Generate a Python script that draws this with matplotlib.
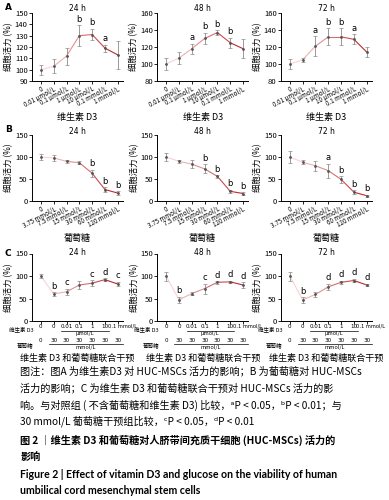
import numpy as np
import matplotlib.pyplot as plt
from matplotlib.colors import LinearSegmentedColormap
from matplotlib import transforms

plt.rcParams['font.family'] = ['Noto Sans CJK SC', 'DejaVu Sans']

times = ["24 h", "48 h", "72 h"]

# A: vitamin D3 alone
a_labels = ["0", "0.01 μmol/L", "0.1 μmol/L", "1 μmol/L", "10 μmol/L", "0.1 mmol/L", "1 mmol/L"]
a_mean = [[100, 103, 112, 130, 131, 119, 113],
          [100, 107, 118, 130, 137, 125, 118],
          [100, 105, 121, 132, 132, 129, 114]]
a_err = [[4.5, 6, 7.5, 9, 5, 3, 12],
         [7, 7, 6, 7, 3, 6, 11],
         [6, 2.5, 12, 10, 10, 6, 6]]
a_sig = [["", "", "", "b", "b", "a", ""],
         ["", "", "a", "b", "b", "b", ""],
         ["", "", "a", "b", "b", "a", ""]]
a_ylim = [(90, 150), (80, 160), (80, 160)]
a_ystep = [10, 20, 20]

# B: glucose alone
b_labels = ["0", "3.75 mmol/L", "7.5 mmol/L", "15 mmol/L", "30 mmol/L", "60 mmol/L", "120 mmol/L"]
b_mean = [[100, 98, 90, 87, 63, 26, 18],
          [100, 90, 84, 73, 56, 22, 17],
          [100, 88, 80, 69, 49, 20, 12]]
b_err = [[6, 6, 3, 4, 8, 5, 4],
         [9, 3, 9, 10, 3, 4, 3],
         [14, 5, 11, 16, 8, 4, 2]]
b_sig = [["", "", "", "", "b", "b", "b"],
         ["", "", "", "b", "b", "b", "b"],
         ["", "", "", "a", "b", "b", "b"]]

# C: combined
c_d3 = ["0", "0", "0.01", "0.1", "1", "10", "0.1 mmol/L"]
c_glu = ["0", "30", "30", "30", "30", "30", "30"]
c_mean = [[100, 60, 65, 80, 84, 92, 82],
          [100, 47, 61, 72, 86, 87, 80],
          [100, 47, 59, 76, 86, 90, 80]]
c_err = [[5, 4, 7, 9, 7, 3, 5],
         [10, 7, 3, 11, 3, 3, 6],
         [10, 6, 6, 7, 4, 4, 3]]
c_sig = [["", "b", "c", "", "c", "d", "c"],
         ["", "b", "", "c", "d", "d", "d"],
         ["", "b", "", "d", "d", "d", "d"]]

cmap = LinearSegmentedColormap.from_list("pk", ["#f7d4d4", "#c0282d"])

fig = plt.figure(figsize=(3.89, 5.0), dpi=100)
lefts = [0.082, 0.404, 0.722]
W = 0.234


def draw(ax, mean, err, sig, ylim, ystep, title, title_y):
    x = np.arange(len(mean))
    n = len(mean) - 1
    for i in range(n):
        ax.plot(x[i:i + 2], mean[i:i + 2], color=cmap(i / (n - 1)), lw=0.8, zorder=2)
    ax.errorbar(x, mean, yerr=err, fmt='none', ecolor='#8a8a8a', elinewidth=0.6,
                capsize=1.2, capthick=0.5, zorder=3)
    ax.plot(x, mean, 'o', ms=1.0, color='#555555', zorder=4)
    for xi, m, e, s in zip(x, mean, err, sig):
        if s:
            ax.annotate(s, (xi, m + e), xytext=(0, 1), textcoords='offset points',
                        ha='center', va='bottom', fontsize=6, family='DejaVu Sans')
    ax.set_xlim(-0.7, len(mean) - 0.6)
    ax.set_ylim(*ylim)
    ax.set_yticks(np.arange(ylim[0], ylim[1] + 1, ystep))
    ax.spines['top'].set_visible(False)
    ax.spines['right'].set_visible(False)
    for sp in ('left', 'bottom'):
        ax.spines[sp].set_linewidth(0.7)
    ax.tick_params(axis='both', length=2, width=0.6, pad=1, labelsize=5.5)
    ax.set_xticks(x)
    ax.text(0.5, title_y, title, transform=ax.transAxes, ha='center', va='center',
            fontsize=5.5, family='DejaVu Sans')
    ax.set_ylabel("细胞活力 (%)", fontsize=6, labelpad=1)


rows = [(0.838, 0.136), (0.598, 0.132), (0.358, 0.135)]
for j in range(3):
    # row A
    ax = fig.add_axes([lefts[j], rows[0][0], W, rows[0][1]])
    draw(ax, a_mean[j], a_err[j], a_sig[j], a_ylim[j], a_ystep[j], times[j], 1.07)
    ax.set_xticklabels(a_labels, rotation=28, ha='right', rotation_mode='anchor', fontsize=4.5)
    ax.set_xlabel("维生素 D3", fontsize=6.5, labelpad=3)
    # row B
    ax = fig.add_axes([lefts[j], rows[1][0], W, rows[1][1]])
    draw(ax, b_mean[j], b_err[j], b_sig[j], (0, 150), 50, times[j], 1.06)
    ax.set_xticklabels(b_labels, rotation=28, ha='right', rotation_mode='anchor', fontsize=4.5)
    ax.set_xlabel("葡萄糖", fontsize=6.5, labelpad=3)
    # row C
    ax = fig.add_axes([lefts[j], rows[2][0], W, rows[2][1]])
    draw(ax, c_mean[j], c_err[j], c_sig[j], (0, 150), 50, times[j], 1.01)
    ax.set_xticklabels([])
    tr = transforms.blended_transform_factory(ax.transData, fig.transFigure)
    tra = transforms.blended_transform_factory(ax.transAxes, fig.transFigure)
    for i, lab in enumerate(c_d3):
        if i == len(c_d3) - 1:
            ax.text(i - 0.8, 0.348, lab, transform=tr, ha='left', va='center', fontsize=3.7,
                    family='DejaVu Sans')
        else:
            ax.text(i, 0.348, lab, transform=tr, ha='center', va='center', fontsize=4.1,
                    family='DejaVu Sans')
    for i, lab in enumerate(c_glu):
        ax.text(i, 0.318, lab, transform=tr, ha='center', va='center', fontsize=4.1,
                family='DejaVu Sans')
    ax.text(0.02, 0.341, "维生素 D3", transform=tra, ha='right', va='center', fontsize=4.0)
    ax.text(0.02, 0.310, "葡萄糖", transform=tra, ha='right', va='center', fontsize=4.0)
    ax.plot([1.6, 5.3], [0.338, 0.338], transform=tr, color='black', lw=0.5, clip_on=False)
    ax.text(3.45, 0.332, "μmol/L", transform=tr, ha='center', va='center', fontsize=4.0)
    ax.plot([0.6, 6.4], [0.312, 0.312], transform=tr, color='black', lw=0.5, clip_on=False)
    ax.text(3.5, 0.306, "mmol/L", transform=tr, ha='center', va='center', fontsize=4.0)
    ax.text(0.5, 0.284, "维生素 D3 和葡萄糖联合干预", transform=tra, ha='center', va='center',
            fontsize=6.5)

for letter, y in zip("ABC", [0.985, 0.741, 0.494]):
    fig.text(0.012, y, letter, fontsize=6.5, weight='bold', family='DejaVu Sans', va='center')

caption = [
    "图注：图A 为维生素D3 对 HUC-MSCs 活力的影响；B 为葡萄糖对 HUC-MSCs",
    "活力的影响；C 为维生素 D3 和葡萄糖联合干预对 HUC-MSCs 活力的影",
    "响。与对照组 ( 不含葡萄糖和维生素 D3) 比较，ᵃP < 0.05，ᵇP < 0.01；与",
    "30 mmol/L 葡萄糖干预组比较，ᶜP < 0.05，ᵈP < 0.01",
]
cap_y = [0.258, 0.224, 0.190, 0.157]
for line, y in zip(caption, cap_y):
    fig.text(0.052, y, line, fontsize=7.3, va='center')

fig.text(0.052, 0.120, "图 2 ｜维生素 D3 和葡萄糖对人脐带间充质干细胞 (HUC-MSCs) 活力的",
         fontsize=7.3, va='center', weight='bold')
fig.text(0.052, 0.087, "影响", fontsize=7.3, va='center', weight='bold')
fig.text(0.052, 0.052, "Figure 2 | Effect of vitamin D3 and glucose on the viability of human",
         fontsize=7.6, va='center', weight='bold', family=['Lato', 'DejaVu Sans'])
fig.text(0.052, 0.020, "umbilical cord mesenchymal stem cells",
         fontsize=7.6, va='center', weight='bold', family=['Lato', 'DejaVu Sans'])

fig.savefig("out.png", dpi=100)
